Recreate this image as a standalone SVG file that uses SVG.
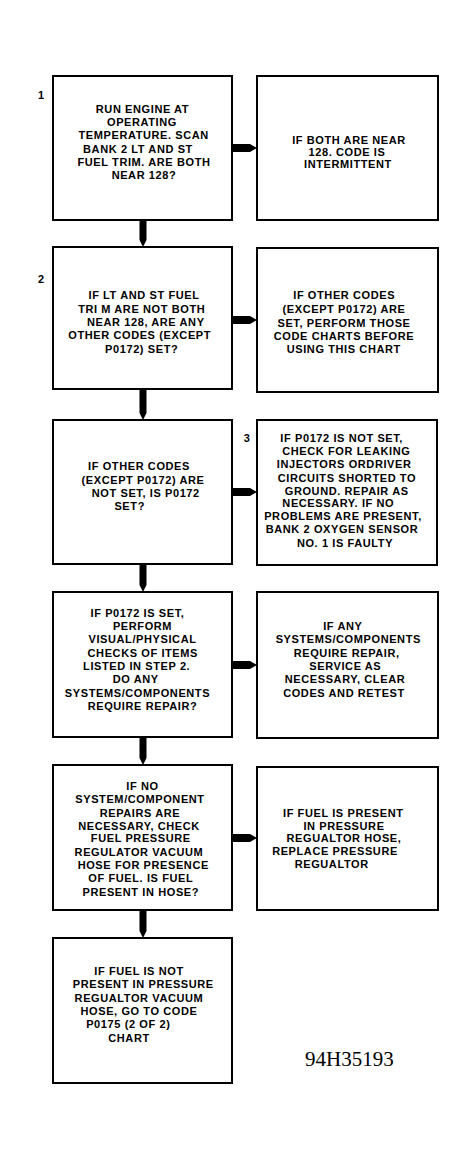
<svg xmlns="http://www.w3.org/2000/svg" width="476" height="1160" viewBox="0 0 476 1160">
<style>
.bg{fill:#fff}
.box{fill:#fff;stroke:#000;stroke-width:2}
.t{font-family:"Liberation Sans",Arial,sans-serif;font-size:11px;font-weight:bold;letter-spacing:0.6px;text-anchor:middle;fill:#000}
.n{font-family:"Liberation Sans",Arial,sans-serif;font-size:11px;font-weight:bold;text-anchor:middle;fill:#000}
.fig{font-family:"Liberation Serif","Times New Roman",serif;font-size:21px;fill:#000}
.c{fill:#000;stroke:none}
</style>
<rect class="bg" x="0" y="0" width="476" height="1160"/>
<g id="connectors">
<polygon class="c" points="139.5,221 146.5,221 146.5,240 143,247 139.5,240"/>
<polygon class="c" points="139.5,389 146.5,389 146.5,413 143,420 139.5,413"/>
<polygon class="c" points="139.5,565 146.5,565 146.5,585 143,592 139.5,585"/>
<polygon class="c" points="139.5,738 146.5,738 146.5,758 143,765 139.5,758"/>
<polygon class="c" points="139.5,911 146.5,911 146.5,931 143,938 139.5,931"/>
<polygon class="c" points="233,144 250,144 257,148 250,152 233,152"/>
<polygon class="c" points="233,316 250,316 257,320 250,324 233,324"/>
<polygon class="c" points="233,488 250,488 257,492 250,496 233,496"/>
<polygon class="c" points="233,661 250,661 257,665 250,669 233,669"/>
<polygon class="c" points="233,834 250,834 257,838 250,842 233,842"/>
</g>
<g id="step1">
<rect class="box" x="53" y="76" width="179" height="144"/>
<text class="n" x="41" y="99">1</text>
<text class="t" x="142.5" y="112.7">RUN ENGINE AT</text>
<text class="t" x="142" y="126">OPERATING</text>
<text class="t" x="143.7" y="139.3">TEMPERATURE. SCAN</text>
<text class="t" x="138" y="152.7">BANK 2 LT AND ST</text>
<text class="t" x="144" y="166">FUEL TRIM. ARE BOTH</text>
<text class="t" x="144" y="179.3">NEAR 128?</text>
</g>
<g id="result1">
<rect class="box" x="257" y="76" width="181" height="144"/>
<text class="t" x="349" y="143.5">IF BOTH ARE NEAR</text>
<text class="t" x="347" y="155.5">128. CODE IS</text>
<text class="t" x="348" y="167.5">INTERMITTENT</text>
</g>
<g id="step2">
<rect class="box" x="53" y="247" width="179" height="142"/>
<text class="n" x="41" y="283">2</text>
<text class="t" x="144" y="299.3">IF LT AND ST FUEL</text>
<text class="t" x="141.7" y="312.7">TRI M ARE NOT BOTH</text>
<text class="t" x="145.8" y="326">NEAR 128, ARE ANY</text>
<text class="t" x="139.7" y="339.3">OTHER CODES (EXCEPT</text>
<text class="t" x="141.7" y="352.7">P0172) SET?</text>
</g>
<g id="result2">
<rect class="box" x="257" y="248" width="181" height="144"/>
<text class="t" x="344.2" y="299.3">IF OTHER CODES</text>
<text class="t" x="344" y="313">(EXCEPT P0172) ARE</text>
<text class="t" x="344" y="326.7">SET, PERFORM THOSE</text>
<text class="t" x="344" y="340">CODE CHARTS BEFORE</text>
<text class="t" x="343.8" y="352.7">USING THIS CHART</text>
</g>
<g id="step3">
<rect class="box" x="53" y="420" width="179" height="144"/>
<text class="t" x="139" y="470">IF OTHER CODES</text>
<text class="t" x="143" y="484">(EXCEPT P0172) ARE</text>
<text class="t" x="145.8" y="497.3">NOT SET, IS P0172</text>
<text class="t" x="129.7" y="510">SET?</text>
</g>
<g id="result3">
<rect class="box" x="257" y="420" width="180" height="145"/>
<text class="n" x="246.7" y="441.7">3</text>
<text class="t" x="341.7" y="441.7">IF P0172 IS NOT SET,</text>
<text class="t" x="346.3" y="455">CHECK FOR LEAKING</text>
<text class="t" x="344.2" y="468.3">INJECTORS ORDRIVER</text>
<text class="t" x="347" y="481.7">CIRCUITS SHORTED TO</text>
<text class="t" x="346.7" y="495">GROUND. REPAIR AS</text>
<text class="t" x="338.3" y="507.3">NECESSARY. IF NO</text>
<text class="t" x="343" y="520">PROBLEMS ARE PRESENT,</text>
<text class="t" x="342" y="533.3">BANK 2 OXYGEN SENSOR</text>
<text class="t" x="345" y="546.7">NO. 1 IS FAULTY</text>
</g>
<g id="step4">
<rect class="box" x="53" y="592" width="179" height="145"/>
<text class="t" x="137.5" y="616.7">IF P0172 IS SET,</text>
<text class="t" x="142.5" y="630">PERFORM</text>
<text class="t" x="142.5" y="643.3">VISUAL/PHYSICAL</text>
<text class="t" x="142.8" y="656.7">CHECKS OF ITEMS</text>
<text class="t" x="136.7" y="670">LISTED IN STEP 2.</text>
<text class="t" x="135.8" y="683.3">DO ANY</text>
<text class="t" x="137.5" y="696.7">SYSTEMS/COMPONENTS</text>
<text class="t" x="142.5" y="710">REQUIRE REPAIR?</text>
</g>
<g id="result4">
<rect class="box" x="257" y="592" width="181" height="146"/>
<text class="t" x="342.8" y="630">IF ANY</text>
<text class="t" x="348.3" y="643.3">SYSTEMS/COMPONENTS</text>
<text class="t" x="346.7" y="656.7">REQUIRE REPAIR,</text>
<text class="t" x="345.3" y="670">SERVICE AS</text>
<text class="t" x="345" y="683.3">NECESSARY, CLEAR</text>
<text class="t" x="344" y="696.7">CODES AND RETEST</text>
</g>
<g id="step5">
<rect class="box" x="53" y="765" width="179" height="145"/>
<text class="t" x="142.5" y="790">IF NO</text>
<text class="t" x="140" y="803.3">SYSTEM/COMPONENT</text>
<text class="t" x="140" y="816.7">REPAIRS ARE</text>
<text class="t" x="139" y="830">NECESSARY, CHECK</text>
<text class="t" x="140.8" y="842.3">FUEL PRESSURE</text>
<text class="t" x="139" y="855.7">REGULATOR VACUUM</text>
<text class="t" x="143.3" y="869">HOSE FOR PRESENCE</text>
<text class="t" x="140.8" y="882.3">OF FUEL. IS FUEL</text>
<text class="t" x="140.8" y="895.7">PRESENT IN HOSE?</text>
</g>
<g id="result5">
<rect class="box" x="257" y="767" width="181" height="143"/>
<text class="t" x="343.3" y="816.7">IF FUEL IS PRESENT</text>
<text class="t" x="344" y="830">IN PRESSURE</text>
<text class="t" x="344" y="842.3">REGUALTOR HOSE,</text>
<text class="t" x="335" y="855">REPLACE PRESSURE</text>
<text class="t" x="331.7" y="868.3">REGUALTOR</text>
</g>
<g id="step6">
<rect class="box" x="53" y="938" width="179" height="145"/>
<text class="t" x="139" y="975">IF FUEL IS NOT</text>
<text class="t" x="143.3" y="988.3">PRESENT IN PRESSURE</text>
<text class="t" x="139" y="1001.7">REGUALTOR VACUUM</text>
<text class="t" x="139" y="1015">HOSE, GO TO CODE</text>
<text class="t" x="128.3" y="1028.3">P0175 (2 OF 2)</text>
<text class="t" x="129" y="1041.7">CHART</text>
</g>
<text class="fig" x="305" y="1066">94H35193</text>
</svg>
